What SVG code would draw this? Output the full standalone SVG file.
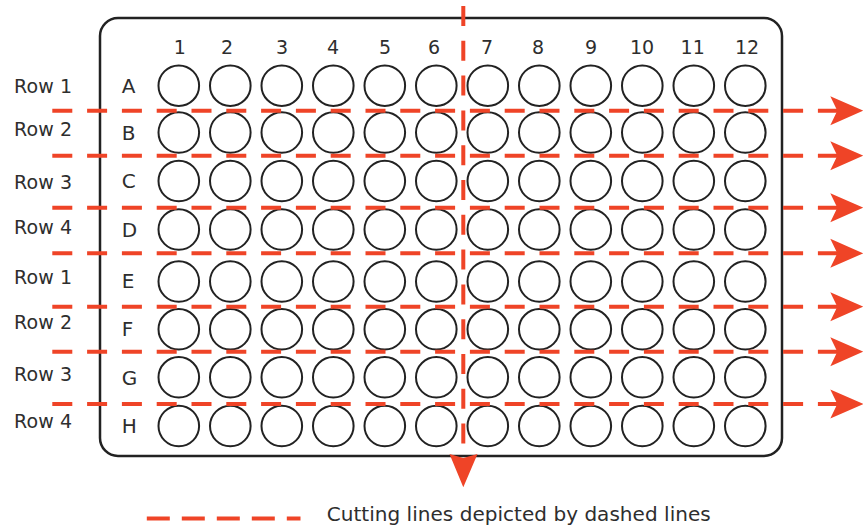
<svg xmlns="http://www.w3.org/2000/svg" width="863" height="525" viewBox="0 0 863 525">
<defs>
<style>
.txt{font-family:"DejaVu Sans","Liberation Sans",sans-serif;fill:#2e2e2e}
.row{font-size:19px}
.col{font-size:19px;text-anchor:middle}
.let{font-size:20px}
.well{fill:none;stroke:#222;stroke-width:2}
.cut{stroke:#EF4427;stroke-width:4;fill:none;stroke-dasharray:20 14.8}
.head{fill:#EF4427}
</style>
<circle id="w" cx="0" cy="0" r="20.3" class="well"/>
<g id="wellrow">
<use href="#w" x="178.8"/><use href="#w" x="230.3"/><use href="#w" x="281.8"/><use href="#w" x="333.3"/><use href="#w" x="384.8"/><use href="#w" x="436.3"/><use href="#w" x="487.8"/><use href="#w" x="539.3"/><use href="#w" x="590.8"/><use href="#w" x="642.3"/><use href="#w" x="693.8"/><use href="#w" x="745.3"/>
</g>
<path id="ah" d="M0,0 L-33,-14.5 L-26,0 L-33,14.5 Z" class="head"/>
</defs>
<g id="plate">
<rect x="100" y="18" width="682" height="438" rx="18" ry="18" fill="none" stroke="#222" stroke-width="2.5"/>
</g>
<g id="wells">
<use href="#wellrow" y="85.7"/>
<use href="#wellrow" y="132.5"/>
<use href="#wellrow" y="181"/>
<use href="#wellrow" y="229.5"/>
<use href="#wellrow" y="281.5"/>
<use href="#wellrow" y="329.3"/>
<use href="#wellrow" y="377.3"/>
<use href="#wellrow" y="426"/>
</g>
<g id="column-labels" class="txt col">
<text x="179.7" y="53.5">1</text>
<text x="227" y="53.5">2</text>
<text x="282" y="53.5">3</text>
<text x="333" y="53.5">4</text>
<text x="385" y="53.5">5</text>
<text x="434" y="53.5">6</text>
<text x="487" y="53.5">7</text>
<text x="538" y="53.5">8</text>
<text x="591" y="53.5">9</text>
<text x="642" y="53.5">10</text>
<text x="692.7" y="53.5">11</text>
<text x="747" y="53.5">12</text>
</g>
<g id="row-letters" class="txt let">
<text x="121.7" y="92.5">A</text>
<text x="121.7" y="139.5">B</text>
<text x="121.7" y="188">C</text>
<text x="121.7" y="236.5">D</text>
<text x="121.7" y="288">E</text>
<text x="121.7" y="336">F</text>
<text x="121.7" y="384.5">G</text>
<text x="121.7" y="433">H</text>
</g>
<g id="row-names" class="txt row">
<text x="14" y="92.5" textLength="58">Row 1</text>
<text x="14" y="136" textLength="58">Row 2</text>
<text x="14" y="189" textLength="58">Row 3</text>
<text x="14" y="234" textLength="58">Row 4</text>
<text x="14" y="284" textLength="58">Row 1</text>
<text x="14" y="329" textLength="58">Row 2</text>
<text x="14" y="381" textLength="58">Row 3</text>
<text x="14" y="427.5" textLength="58">Row 4</text>
</g>
<g id="connectors">
<path class="cut" d="M52.3,110.7H838 M52.3,155.7H838 M52.3,207.7H838 M52.3,253.3H838 M52.3,306.7H838 M52.3,351.7H838 M52.3,404H838"/>
<use href="#ah" x="863.3" y="110.7"/>
<use href="#ah" x="863.3" y="155.7"/>
<use href="#ah" x="863.3" y="207.7"/>
<use href="#ah" x="863.3" y="253.3"/>
<use href="#ah" x="863.3" y="306.7"/>
<use href="#ah" x="863.3" y="351.7"/>
<use href="#ah" x="863.3" y="404"/>
<path class="cut" d="M463.3,6V458"/>
<path class="head" d="M463.3,487.3 L449.5,454 L463.3,458 L477.5,454 Z"/>
</g>
<g id="legend">
<path d="M146.8,518.5H300.5" stroke="#EF4427" stroke-width="4" stroke-dasharray="23 12"/>
<text class="txt" x="326.7" y="521" font-size="20" textLength="384">Cutting lines depicted by dashed lines</text>
</g>
</svg>
